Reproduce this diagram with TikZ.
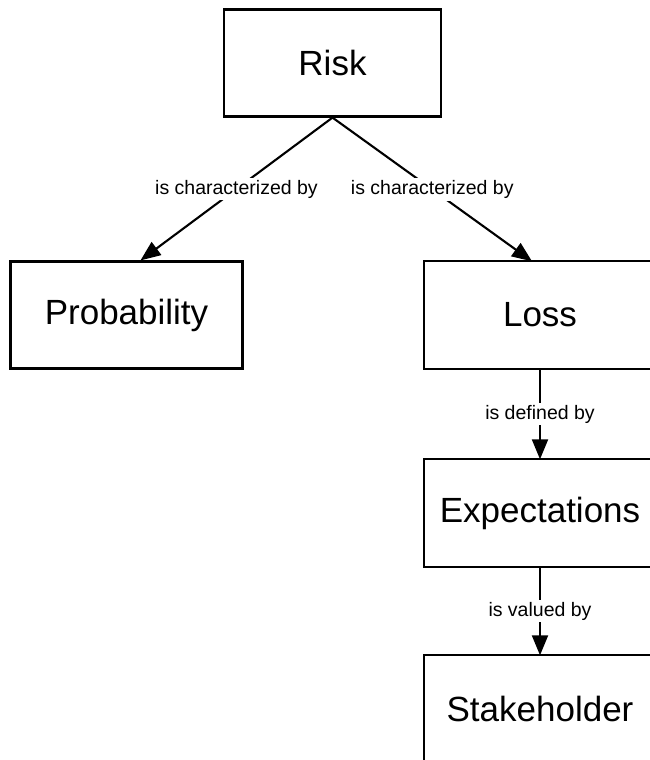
\documentclass[tikz,border=0pt]{standalone}
\usepackage{fontspec}
\setmainfont{Liberation Sans}
\usetikzlibrary{arrows.meta}
\tikzset{
  conceptbox/.style={draw=black, line width=2.2pt, minimum width=#1, minimum height=107pt,
    inner sep=0pt, font=\fontsize{35}{42}\selectfont},
  conceptbox/.default=232pt,
  edgebox/.style={minimum width=232pt, minimum height=107pt,
    inner sep=0pt, font=\fontsize{35}{42}\selectfont},
  boxline/.style={draw=black, line width=2.2pt},
  relation/.style={draw=black, line width=2.1pt, -{Triangle[length=20pt,width=16pt]}},
  rellabel/.style={fill=white, inner sep=2pt, font=\fontsize{19.5}{23}\selectfont}
}
\begin{document}
\begin{tikzpicture}[x=1pt,y=-1pt]
\useasboundingbox (0,0) rectangle (649,760);
\node[conceptbox=217pt] (risk) at (332.5,63) {Risk};
\node[conceptbox] (prob) at (126.5,315) {Probability};
\node[edgebox] (loss) at (540,315) {Loss};
\node[edgebox] (expect) at (540,513) {Expectations};
\node[edgebox] (stake) at (540,709) {Stakeholder};
\draw[boxline] (loss.north west) rectangle ([xshift=40pt]loss.south east);
\draw[boxline] (expect.north west) rectangle ([xshift=40pt]expect.south east);
\draw[boxline] (stake.north west) rectangle ([xshift=40pt,yshift=-20pt]stake.south east);
\draw[relation] (risk.south) -- node[rellabel] (l1) {is characterized by} ([xshift=14pt]prob.north);
\draw[relation] (risk.south) -- node[rellabel] (l2) {is characterized by} ([xshift=-8pt]loss.north);
\draw[relation] (loss.south) -- node[rellabel] (l3) {is defined by} (expect.north);
\draw[relation] (expect.south) -- node[rellabel] (l4) {is valued by} (stake.north);
\end{tikzpicture}
\end{document}
